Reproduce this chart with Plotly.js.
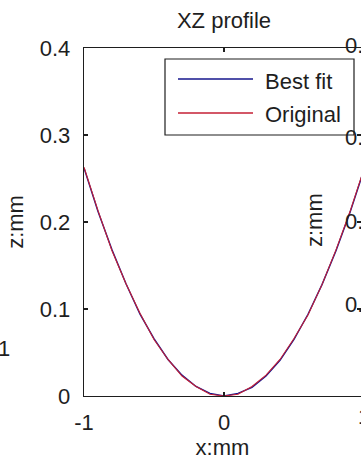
<!DOCTYPE html>
<html>
<head>
<meta charset="utf-8">
<script src="https://cdn.plot.ly/plotly-3.0.1.min.js"></script>
<style>
  html, body { margin: 0; padding: 0; background: #fff; overflow: hidden; }
  #chart { width: 361px; height: 461px; }
</style>
</head>
<body>
<div id="chart"></div>
<script>
// XZ profile of the measured surface (mm)
const xMm = [-1.0, -0.9, -0.8, -0.7, -0.6, -0.5, -0.4, -0.3, -0.2, -0.1, 0.0,
              0.1,  0.2,  0.3,  0.4,  0.5,  0.6,  0.7,  0.8,  0.9,  1.0];
const zBestFit = [0.262, 0.212, 0.168, 0.129, 0.094, 0.066, 0.042, 0.024, 0.011, 0.003, 0.000,
                  0.003, 0.010, 0.023, 0.041, 0.065, 0.094, 0.128, 0.167, 0.211, 0.260];
const zOriginal = [0.263, 0.213, 0.167, 0.129, 0.095, 0.065, 0.042, 0.023, 0.011, 0.002, 0.000,
                   0.002, 0.011, 0.024, 0.042, 0.066, 0.093, 0.128, 0.168, 0.212, 0.261];
const seriesNames = ['Best fit', 'Original'];
const xTickVals = [-1, 0, 1];
const xTickText = ['-1', '0', '1'];
const zTickVals = [0, 0.1, 0.2, 0.3, 0.4];
const zTickText = ['0', '0.1', '0.2', '0.3', '0.4'];
// tick labels of the neighbouring panel that reach into this one
const sideTickText = ['0.4', '0.3', '0.2', '0.1'];

// ---- layout geometry (pixels) ----
const W = 361, H = 461;
const L = 84, T = 48, B = 396, R = W;         // plot box
const axisSpanPx = 280;                        // pixels from x=-1 to x=1
const xRight = -1 + 2 * (R - L) / axisSpanPx;  // axis continues past the right edge
const px = v => (v - L) / (R - L);             // pixel -> paper x
const py = v => (B - v) / (B - T);             // pixel -> paper y

const FONT = 'Liberation Sans, Arial, Helvetica, sans-serif';
const INK = '#1e1e1e';
const FS = 22;
const colBest = '#16168c';
const colOrig = '#c41f35';

const traces = [
  { x: xMm, y: zBestFit, name: seriesNames[0], mode: 'lines', type: 'scatter',
    line: { color: colBest, width: 1.4 } },
  { x: xMm, y: zOriginal, name: seriesNames[1], mode: 'lines', type: 'scatter',
    line: { color: colOrig, width: 1.1 } }
];

const axisCommon = {
  showgrid: false, zeroline: false, showline: true, mirror: 'ticks',
  linecolor: INK, linewidth: 1.3, ticks: 'inside', ticklen: 4,
  tickcolor: INK, tickwidth: 1.2,
  tickfont: { family: FONT, size: FS, color: INK }
};

// hand-built legend box
const legBox = { x0: 165, x1: 354, y0: 59, y1: 135 };
const legRows = [79, 113];
const legLine = [178, 253];
const legTextX = 263;

const shapes = [
  { type: 'rect', xref: 'paper', yref: 'paper', layer: 'above',
    x0: px(legBox.x0), x1: px(legBox.x1), y0: py(legBox.y1), y1: py(legBox.y0),
    fillcolor: '#ffffff', line: { color: INK, width: 1.2 } }
];
const annotations = [];
traces.forEach((t, i) => {
  shapes.push({ type: 'line', xref: 'paper', yref: 'paper', layer: 'above',
    x0: px(legLine[0]), x1: px(legLine[1]), y0: py(legRows[i]), y1: py(legRows[i]),
    line: { color: t.line.color, width: 1.3 } });
  annotations.push({ xref: 'paper', yref: 'paper', x: px(legTextX), y: py(legRows[i] + 2),
    xanchor: 'left', yanchor: 'middle', showarrow: false, text: t.name,
    font: { family: FONT, size: FS, color: INK } });
});

// x = 1 tick label sits just past the visible edge
annotations.push({ xref: 'paper', yref: 'paper', x: px(L + axisSpanPx), y: py(416),
  xanchor: 'center', yanchor: 'middle', showarrow: false, text: xTickText[2],
  font: { family: FONT, size: FS, color: INK } });

// neighbouring panel: its y tick labels and axis title
const sideRows = [45, 137, 221, 304];
sideTickText.forEach((s, i) => {
  annotations.push({ xref: 'paper', yref: 'paper', x: px(343), y: py(sideRows[i]),
    xanchor: 'left', yanchor: 'middle', showarrow: false, text: s,
    font: { family: FONT, size: FS, color: INK } });
});
annotations.push({ xref: 'paper', yref: 'paper', x: px(315), y: py(220),
  xanchor: 'center', yanchor: 'middle', showarrow: false, text: 'z:mm', textangle: -90,
  font: { family: FONT, size: FS, color: INK } });
// left neighbour's label
annotations.push({ xref: 'paper', yref: 'paper', x: px(4), y: py(348),
  xanchor: 'center', yanchor: 'middle', showarrow: false, text: '1',
  font: { family: FONT, size: FS, color: INK } });

const layout = {
  width: W, height: H,
  margin: { l: L, r: W - R, t: T, b: H - B, pad: 0 },
  paper_bgcolor: '#ffffff', plot_bgcolor: '#ffffff',
  showlegend: false,
  font: { family: FONT, size: FS, color: INK },
  title: { text: 'XZ profile', font: { family: FONT, size: FS, color: INK },
           xref: 'paper', x: px(224), xanchor: 'center',
           yref: 'container', y: 1 - 20 / H, yanchor: 'middle' },
  xaxis: Object.assign({}, axisCommon, {
    range: [-1, xRight], tickvals: xTickVals, ticktext: xTickText,
    ticklabelstandoff: 6,
    title: { text: 'x:mm', font: { family: FONT, size: FS, color: INK }, standoff: 6 }
  }),
  yaxis: Object.assign({}, axisCommon, {
    range: [0, 0.4], tickvals: zTickVals, ticktext: zTickText,
    ticklabelstandoff: 8,
    title: { text: 'z:mm', font: { family: FONT, size: FS, color: INK }, standoff: 10 }
  }),
  shapes: shapes,
  annotations: annotations
};

Plotly.newPlot('chart', traces, layout, { staticPlot: true, displayModeBar: false });
</script>
</body>
</html>
